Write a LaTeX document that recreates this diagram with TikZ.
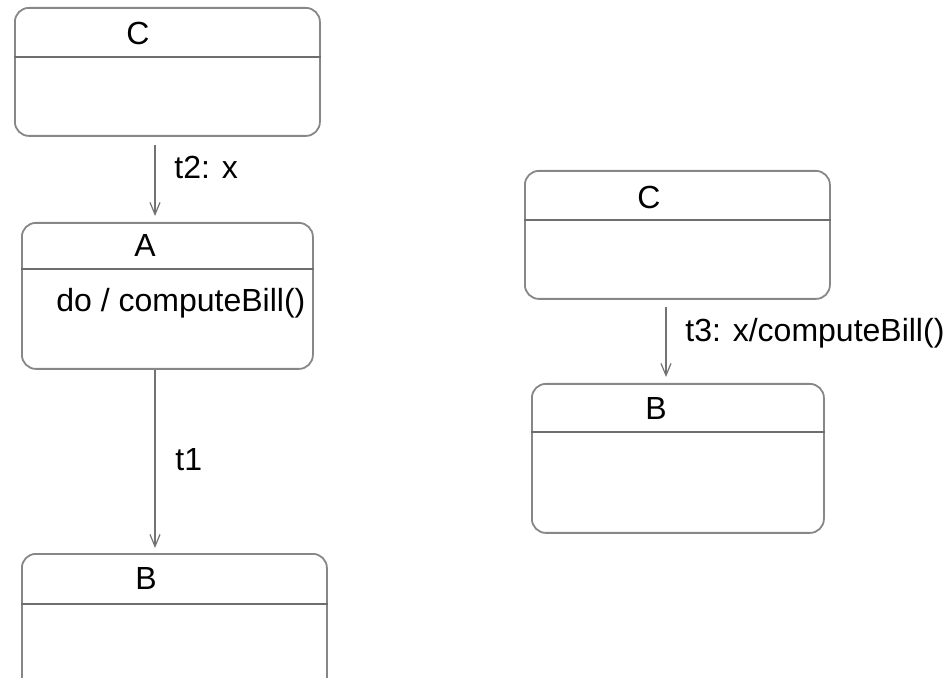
\documentclass[tikz,border=0pt]{standalone}
\usepackage{fontspec}
\setmainfont{Liberation Sans}
\usetikzlibrary{arrows.meta}
\definecolor{boxgray}{RGB}{135,135,135}
\definecolor{divgray}{RGB}{110,110,110}
\definecolor{arrowgray}{RGB}{115,115,115}
\tikzset{>={Straight Barb[length=6pt,width=5pt]}}
\tikzset{state/.style={draw=boxgray, line width=0.9pt, rounded corners=7pt, anchor=north west, inner sep=0pt},
         divider/.style={draw=divgray, line width=0.7pt},
         trans/.style={->, draw=arrowgray, line width=0.6pt}}

\begin{document}
\begin{tikzpicture}[x=0.5pt, y=-0.5pt, font=\fontsize{16}{18}\selectfont]
    \clip (0,0) rectangle (948,678);
    \useasboundingbox (0,0) rectangle (948,678);

    % left column
    \node[state, minimum width=152.5pt, minimum height=64pt] (c1) at (14,7) {};
    \draw[divider] (c1.west |- 0,57) -- (c1.east |- 0,57);
    \node (c1title) at (138,33) {C};

    \node[state, minimum width=145.5pt, minimum height=73pt] (a) at (21,222) {};
    \draw[divider] (a.west |- 0,269) -- (a.east |- 0,269);
    \node (atitle) at (145,245) {A};
    \node[anchor=west, inner sep=0pt] (ado) at (56,303) {do / computeBill()};

    \node[state, minimum width=152.5pt, minimum height=75pt] (b1) at (21,553) {};
    \draw[divider] (b1.west |- 0,604) -- (b1.east |- 0,604);
    \node (b1title) at (146,578) {B};

    \coordinate (lx) at (155,0);
    \draw[trans, shorten <=4pt, shorten >=3pt] (c1.south -| lx) -- (a.north -| lx);
    \node[anchor=west, inner sep=0pt] (t2) at (174,167) {t2: x};
    \draw[trans, shorten >=2.5pt] (a.south -| lx) -- (b1.north -| lx);
    \node[anchor=west, inner sep=0pt] (t1) at (175,460) {t1};

    % right column
    \node[state, minimum width=152.5pt, minimum height=64pt] (c2) at (524,170) {};
    \draw[divider] (c2.west |- 0,220) -- (c2.east |- 0,220);
    \node (c2title) at (649,197) {C};

    \node[state, minimum width=146pt, minimum height=74.5pt] (b2) at (531,383) {};
    \draw[divider] (b2.west |- 0,432) -- (b2.east |- 0,432);
    \node (b2title) at (656,408) {B};

    \coordinate (rx) at (666,0);
    \draw[trans, shorten <=3.5pt, shorten >=3pt] (c2.south -| rx) -- (b2.north -| rx);
    \node[anchor=west, inner sep=0pt] (t3) at (685,333) {t3: x/computeBill()};
\end{tikzpicture}
\end{document}
